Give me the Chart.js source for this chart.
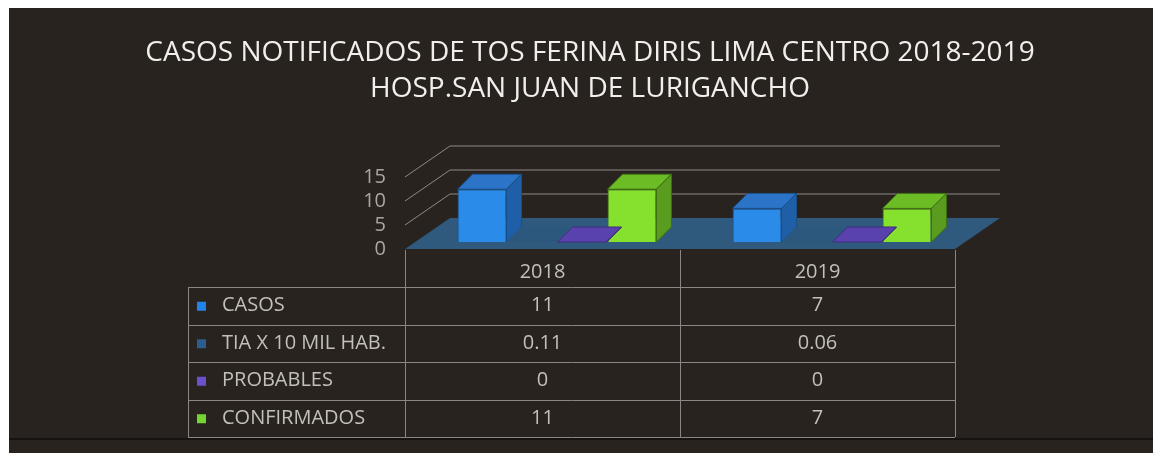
<!DOCTYPE html>
<html>
<head>
<meta charset="utf-8">
<script src="https://cdn.jsdelivr.net/npm/chart.js@4.4.1/dist/chart.umd.min.js"></script>
<style>
html, body { margin: 0; padding: 0; background: #ffffff; }
canvas { display: block; }
</style>
</head>
<body>
<canvas id="chart" width="1153" height="453"></canvas>
<script>
'use strict'

const categories = ['2018', '2019'];
const seriesNames = ['CASOS', 'TIA X 10 MIL HAB.', 'PROBABLES', 'CONFIRMADOS'];
const casos = [11, 7];
const tiaX10Mil = [0.11, 0.06];
const probables = [0, 0];
const confirmados = [11, 7];
const yTicks = [0, 5, 10, 15];
const titleLines = ['CASOS NOTIFICADOS DE TOS FERINA DIRIS LIMA CENTRO 2018-2019', 'HOSP.SAN JUAN DE LURIGANCHO'];

// colours per series: front face, top, side, outline, table key
const faces = [
    { front: '#2a8be9', top: '#2b74c8', side: '#1e5fa8', border: '#1a4f88', key: '#2184ec' },
    { front: '#2e5a80', top: '#2d587e', side: '#2a5377', border: '#2f5a7e', key: '#2d5d8c' },
    { front: '#6a4fc6', top: '#5a42ae', side: '#4c3894', border: '#3f2f7a', key: '#6b52cc' },
    { front: '#86e02e', top: '#6cbc26', side: '#5a9c20', border: '#3f6e16', key: '#74d432' }
];

const shift = { x: 14.5, y: -7 };   // bars sit a little behind the floor front edge
const wall = { x: 45, y: -31 };     // depth of floor and back wall
const depth = { x: 15, y: -15 };    // depth of each bar
const textFont = '"Open Sans", "DejaVu Sans", sans-serif';

function frontY(chart, v) {
    return chart.scales.y.getPixelForValue(v) - shift.y;
}

const panel = {
    id: 'panel',
    beforeDraw(chart) {
        const ctx = chart.ctx;
        ctx.save();
        ctx.fillStyle = '#ffffff';
        ctx.fillRect(0, 0, chart.width, chart.height);
        ctx.fillStyle = '#29231f';
        ctx.fillRect(9, 8, chart.width - 9, chart.height - 8);
        ctx.fillStyle = '#171311';
        ctx.fillRect(9, 438, chart.width - 9, 2);
        // title
        ctx.fillStyle = '#f1efec';
        ctx.font = '28px ' + textFont;
        ctx.textAlign = 'center';
        ctx.textBaseline = 'middle';
        ctx.fillText(titleLines[0], 590, 53);
        ctx.fillText(titleLines[1], 590, 89);
        ctx.restore();
    }
};

const floor3d = {
    id: 'floor3d',
    beforeDatasetsDraw(chart) {
        const ctx = chart.ctx;
        const xs = chart.scales.x;
        const x0 = xs.left - shift.x, x1 = xs.right - shift.x;
        const y0 = frontY(chart, 0);
        ctx.save();
        ctx.fillStyle = '#2f5a7e';
        ctx.beginPath();
        ctx.moveTo(x0, y0);
        ctx.lineTo(x1, y0);
        ctx.lineTo(x1 + wall.x, y0 + wall.y);
        ctx.lineTo(x0 + wall.x, y0 + wall.y);
        ctx.closePath();
        ctx.fill();
        ctx.strokeStyle = '#8f8a86';
        ctx.lineWidth = 1;
        yTicks.forEach(v => {
            if (v === 0) return;
            const fy = frontY(chart, v);
            const by = fy + wall.y;
            ctx.beginPath();
            ctx.moveTo(x0, fy);
            ctx.lineTo(x0 + wall.x, by);
            ctx.lineTo(x1 + wall.x, by);
            ctx.stroke();
        });
        ctx.fillStyle = '#a9a5a1';
        ctx.font = '20px ' + textFont;
        ctx.textAlign = 'right';
        ctx.textBaseline = 'middle';
        yTicks.forEach(v => ctx.fillText(String(v), x0 - 19, frontY(chart, v)));
        ctx.restore();
    },
    afterDatasetsDraw(chart) {
        const ctx = chart.ctx;
        ctx.save();
        ctx.lineWidth = 1;
        chart.data.datasets.forEach((ds, i) => {
            const meta = chart.getDatasetMeta(i);
            const f = faces[i];
            meta.data.forEach(el => {
                const p = el.getProps(['x', 'y', 'base', 'width'], true);
                const l = p.x - p.width / 2, r = p.x + p.width / 2;
                ctx.strokeStyle = f.border;
                // top face
                ctx.fillStyle = f.top;
                ctx.beginPath();
                ctx.moveTo(l, p.y);
                ctx.lineTo(r, p.y);
                ctx.lineTo(r + depth.x, p.y + depth.y);
                ctx.lineTo(l + depth.x, p.y + depth.y);
                ctx.closePath();
                ctx.fill();
                ctx.stroke();
                // side face
                ctx.fillStyle = f.side;
                ctx.beginPath();
                ctx.moveTo(r, p.y);
                ctx.lineTo(r + depth.x, p.y + depth.y);
                ctx.lineTo(r + depth.x, p.base + depth.y);
                ctx.lineTo(r, p.base);
                ctx.closePath();
                ctx.fill();
                ctx.stroke();
            });
        });
        ctx.restore();
    }
};

const dataTable = {
    id: 'dataTable',
    afterDraw(chart) {
        const ctx = chart.ctx;
        const xs = chart.scales.x;
        const x0 = xs.left - shift.x, x1 = xs.right - shift.x;
        const cw = (x1 - x0) / categories.length;
        const top = frontY(chart, 0) + 1;
        const headBottom = top + 37;
        const rowH = 37.5;
        const legendLeft = 188;
        const bottom = headBottom + rowH * seriesNames.length;
        ctx.save();
        ctx.strokeStyle = '#8c8784';
        ctx.lineWidth = 1;
        ctx.beginPath();
        for (let c = 0; c <= categories.length; c++) {
            const x = Math.round(x0 + c * cw) + 0.5;
            ctx.moveTo(x, top);
            ctx.lineTo(x, bottom);
        }
        ctx.moveTo(legendLeft + 0.5, headBottom);
        ctx.lineTo(legendLeft + 0.5, bottom);
        for (let r = 0; r <= seriesNames.length; r++) {
            const y = Math.round(headBottom + r * rowH) + 0.5;
            ctx.moveTo(legendLeft, y);
            ctx.lineTo(x1, y);
        }
        ctx.stroke();

        ctx.fillStyle = '#c3bfbb';
        ctx.font = '20px ' + textFont;
        ctx.textBaseline = 'middle';
        ctx.textAlign = 'center';
        categories.forEach((c, i) => ctx.fillText(c, x0 + (i + 0.5) * cw, (top + headBottom) / 2 + 4));
        chart.data.datasets.forEach((ds, r) => {
            const cy = headBottom + (r + 0.5) * rowH;
            ctx.fillStyle = faces[r].key;
            ctx.fillRect(legendLeft + 9, cy - 4, 9, 9);
            ctx.fillStyle = '#c3bfbb';
            ctx.textAlign = 'left';
            ctx.fillText(ds.label, legendLeft + 34, cy);
            ctx.textAlign = 'center';
            ds.data.forEach((v, i) => ctx.fillText(String(v), x0 + (i + 0.5) * cw, cy));
        });
        ctx.restore();
    }
};

const seriesData = [casos, tiaX10Mil, probables, confirmados];

const config = {
    type: 'bar',
    data: {
        labels: categories,
        datasets: seriesNames.map((name, i) => ({
            label: name,
            data: seriesData[i],
            backgroundColor: faces[i].front,
            borderColor: faces[i].border,
            borderWidth: 1,
            categoryPercentage: 0.727,
            barPercentage: 0.98
        }))
    },
    options: {
        responsive: false,
        animation: false,
        devicePixelRatio: 1,
        layout: {
            padding: { left: 419.5, right: 183.5, top: 170, bottom: 211 }
        },
        scales: {
            x: { display: false },
            y: { display: false, min: 0, max: 15 }
        },
        plugins: {
            legend: { display: false },
            title: { display: false },
            tooltip: { enabled: false }
        }
    },
    plugins: [panel, floor3d, dataTable]
};

document.addEventListener('DOMContentLoaded', function() {
    new Chart(document.getElementById('chart').getContext('2d'), config);
});
</script>
</body>
</html>
